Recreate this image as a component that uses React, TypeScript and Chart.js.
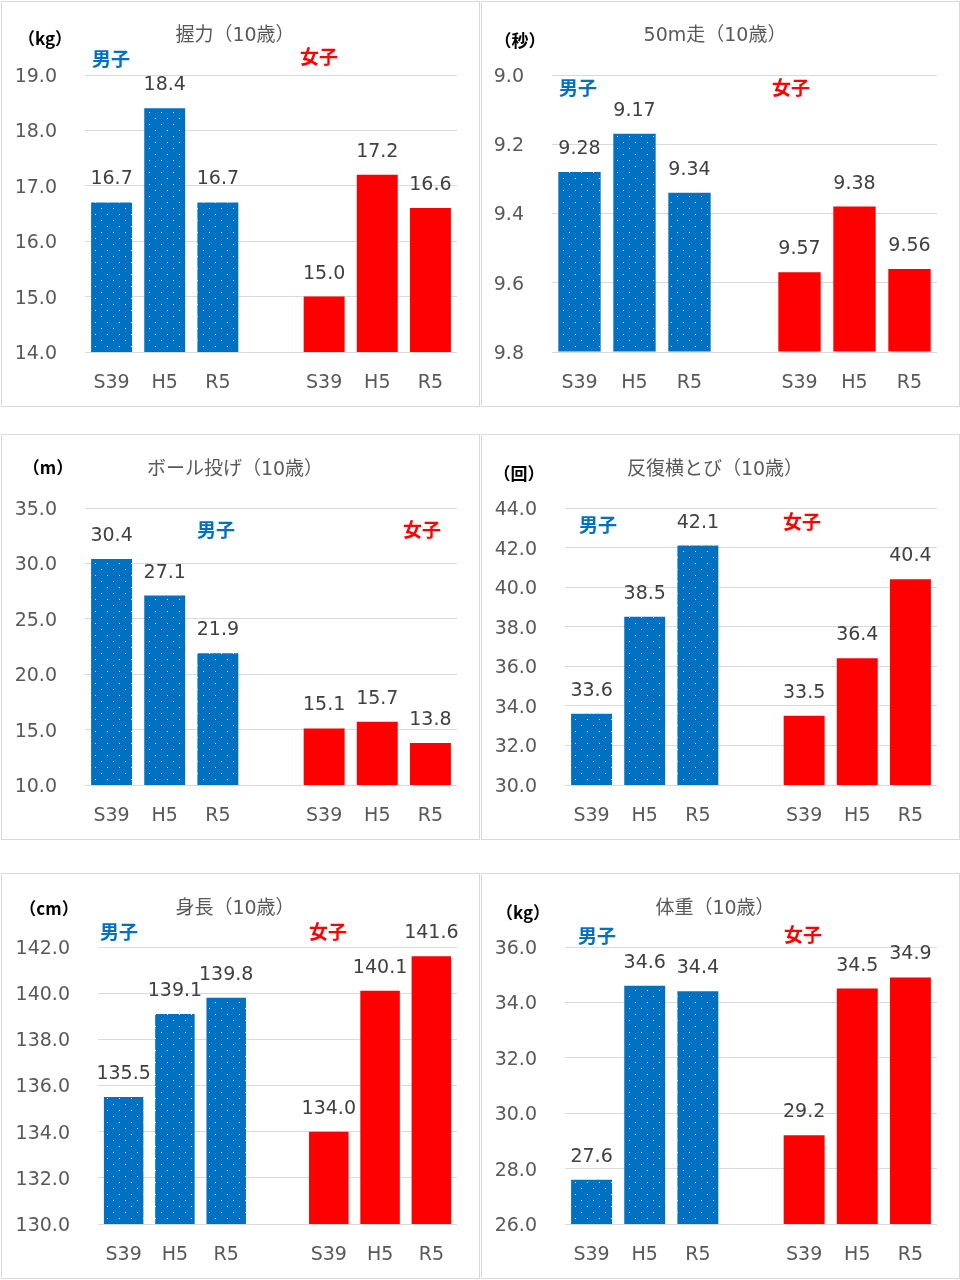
import React, { useEffect, useRef } from "react";
import { Chart, registerables } from "chart.js";

Chart.register(...registerables);

// ---------- data ----------
const CATEGORIES = ["S39", "H5", "R5", "", "S39", "H5", "R5"];

const GRIP_BOYS = [16.7, 18.4, 16.7];
const GRIP_GIRLS = [15.0, 17.2, 16.6];

const RUN50_BOYS = [9.28, 9.17, 9.34];
const RUN50_GIRLS = [9.57, 9.38, 9.56];

const BALL_BOYS = [30.4, 27.1, 21.9];
const BALL_GIRLS = [15.1, 15.7, 13.8];

const SIDESTEP_BOYS = [33.6, 38.5, 42.1];
const SIDESTEP_GIRLS = [33.5, 36.4, 40.4];

const HEIGHT_BOYS = [135.5, 139.1, 139.8];
const HEIGHT_GIRLS = [134.0, 140.1, 141.6];

const WEIGHT_BOYS = [27.6, 34.6, 34.4];
const WEIGHT_GIRLS = [29.2, 34.5, 34.9];

const TITLES = ["握力（10歳）", "50m走（10歳）", "ボール投げ（10歳）", "反復横とび（10歳）", "身長（10歳）", "体重（10歳）"];
const UNITS = ["（kg）", "（秒）", "（m）", "（回）", "（cm）", "（kg）"];
const BOYS_LABEL = "男子";
const GIRLS_LABEL = "女子";

// ---------- styles / layout ----------
const BLUE = "#0070C0";
const RED = "#FF0000";
const NUM_FONT = '"DejaVu Sans", "Noto Sans CJK JP", sans-serif';
const JP_FONT = '"DejaVu Sans", "Noto Sans CJK JP", sans-serif';

type PanelCfg = {
  title: string;
  unit: string;
  boys: number[];
  girls: number[];
  min: number;
  max: number;
  step: number;
  reverse?: boolean;
  base?: number;
  decimals: number;
  yWidth: number;
  unitX: number;
  unitY: number;
  boysPos: [number, number];
  girlsPos: [number, number];
  titleY: number;
  left: number;
  top: number;
};

const PANELS: PanelCfg[] = [
  { title: TITLES[0], unit: UNITS[0], boys: GRIP_BOYS, girls: GRIP_GIRLS, min: 14, max: 19, step: 1, decimals: 1, yWidth: 83, unitX: 43, unitY: 37, boysPos: [90, 57], girlsPos: [298, 55], titleY: 34, left: 1, top: 1 },
  { title: TITLES[1], unit: UNITS[1], boys: RUN50_BOYS, girls: RUN50_GIRLS, min: 9.0, max: 9.8, step: 0.2, reverse: true, base: 9.8, decimals: 2, yWidth: 70, unitX: 38, unitY: 39, boysPos: [77, 86], girlsPos: [290, 86], titleY: 34, left: 481, top: 1 },
  { title: TITLES[2], unit: UNITS[2], boys: BALL_BOYS, girls: BALL_GIRLS, min: 10, max: 35, step: 5, decimals: 1, yWidth: 83, unitX: 46, unitY: 33, boysPos: [195, 95], girlsPos: [401, 95], titleY: 35, left: 1, top: 434 },
  { title: TITLES[3], unit: UNITS[3], boys: SIDESTEP_BOYS, girls: SIDESTEP_GIRLS, min: 30, max: 44, step: 2, decimals: 1, yWidth: 83, unitX: 37, unitY: 39, boysPos: [97, 90], girlsPos: [301, 87], titleY: 35, left: 481, top: 434 },
  { title: TITLES[4], unit: UNITS[4], boys: HEIGHT_BOYS, girls: HEIGHT_GIRLS, min: 130, max: 142, step: 2, decimals: 1, yWidth: 96, unitX: 47, unitY: 35, boysPos: [98, 58], girlsPos: [307, 58], titleY: 35, left: 1, top: 873 },
  { title: TITLES[5], unit: UNITS[5], boys: WEIGHT_BOYS, girls: WEIGHT_GIRLS, min: 26, max: 36, step: 2, decimals: 1, yWidth: 83, unitX: 41, unitY: 39, boysPos: [96, 62], girlsPos: [302, 61], titleY: 35, left: 481, top: 873 },
];

const PANEL_W = 479;
const PANEL_H = 406;
const CANVAS_W = PANEL_W - 2;
const CANVAS_H = PANEL_H - 2;

function makeDotPattern(): CanvasPattern | string {
  const c = document.createElement("canvas");
  c.width = 12;
  c.height = 12;
  const g = c.getContext("2d");
  if (!g) return BLUE;
  g.fillStyle = BLUE;
  g.fillRect(0, 0, 12, 12);
  g.fillStyle = "#dcecf8";
  g.fillRect(3, 2, 1, 1);
  g.fillRect(9, 8, 1, 1);
  const p = g.createPattern(c, "repeat");
  return p || BLUE;
}

function Panel({ cfg }: { cfg: PanelCfg }) {
  const ref = useRef<HTMLCanvasElement | null>(null);

  useEffect(() => {
    if (!ref.current) return;
    const pattern = makeDotPattern();
    const values = [...cfg.boys, null, ...cfg.girls];
    const colors = [pattern, pattern, pattern, "rgba(0,0,0,0)", RED, RED, RED];

    const overlay = {
      id: "overlay",
      afterDatasetsDraw(chart: any) {
        const ctx = chart.ctx as CanvasRenderingContext2D;
        const meta = chart.getDatasetMeta(0);
        ctx.save();
        // value labels
        ctx.font = `19px ${NUM_FONT}`;
        ctx.fillStyle = "#404040";
        ctx.textAlign = "center";
        ctx.textBaseline = "alphabetic";
        meta.data.forEach((el: any, i: number) => {
          const v = values[i];
          if (v === null || v === undefined) return;
          ctx.fillText((v as number).toFixed(cfg.decimals), el.x, el.y - 18);
        });
        // title
        ctx.font = `19px ${JP_FONT}`;
        ctx.fillStyle = "#595959";
        ctx.textBaseline = "middle";
        ctx.textAlign = "center";
        ctx.fillText(cfg.title, 233, cfg.titleY);
        // unit
        ctx.font = `bold 17px "Noto Sans CJK JP", sans-serif`;
        ctx.fillStyle = "#000000";
        ctx.fillText(cfg.unit, cfg.unitX, cfg.unitY);
        // boys / girls
        ctx.font = `bold 19px "Noto Sans CJK JP", sans-serif`;
        ctx.textAlign = "left";
        ctx.fillStyle = BLUE;
        ctx.fillText(BOYS_LABEL, cfg.boysPos[0], cfg.boysPos[1]);
        ctx.fillStyle = RED;
        ctx.fillText(GIRLS_LABEL, cfg.girlsPos[0], cfg.girlsPos[1]);
        ctx.restore();
      },
    };

    const chart = new Chart(ref.current, {
      type: "bar",
      data: {
        labels: CATEGORIES,
        datasets: [
          {
            data: values as any,
            backgroundColor: colors as any,
            borderWidth: 0,
            barPercentage: 0.77,
            categoryPercentage: 1,
            ...(cfg.base !== undefined ? { base: cfg.base } : {}),
          } as any,
        ],
      },
      options: {
        animation: false,
        responsive: false,
        maintainAspectRatio: false,
        devicePixelRatio: 1,
        layout: { padding: { top: 73, right: 22, left: 0, bottom: 0 } },
        plugins: { legend: { display: false }, tooltip: { enabled: false } },
        scales: {
          x: {
            grid: { display: false, drawTicks: false },
            border: { display: false },
            ticks: { color: "#595959", font: { size: 19, family: NUM_FONT }, padding: 20, maxRotation: 0, autoSkip: false },
            afterFit: (s: any) => {
              s.height = 54;
            },
          },
          y: {
            min: cfg.min,
            max: cfg.max,
            reverse: !!cfg.reverse,
            grid: { color: "#d9d9d9", lineWidth: 1, drawTicks: false },
            border: { display: false },
            ticks: {
              stepSize: cfg.step,
              color: "#595959",
              font: { size: 19, family: NUM_FONT },
              padding: 28,
              labelOffset: 2,
              callback: (v: any) => Number(v).toFixed(1),
            },
            afterFit: (s: any) => {
              s.width = cfg.yWidth;
            },
          },
        },
      } as any,
      plugins: [overlay],
    });
    return () => chart.destroy();
  }, [cfg]);

  return (
    <div
      style={{
        position: "absolute",
        left: cfg.left,
        top: cfg.top,
        width: PANEL_W,
        height: PANEL_H,
        boxSizing: "border-box",
        border: "1px solid #d9d9d9",
        background: "#ffffff",
      }}
    >
      <canvas ref={ref} width={CANVAS_W} height={CANVAS_H} style={{ display: "block", width: CANVAS_W, height: CANVAS_H }} />
    </div>
  );
}

export default function App() {
  return (
    <div style={{ position: "absolute", left: 0, top: 0, width: 960, height: 1280, background: "#ffffff" }}>
      {PANELS.map((p, i) => (
        <Panel key={i} cfg={p} />
      ))}
    </div>
  );
}
